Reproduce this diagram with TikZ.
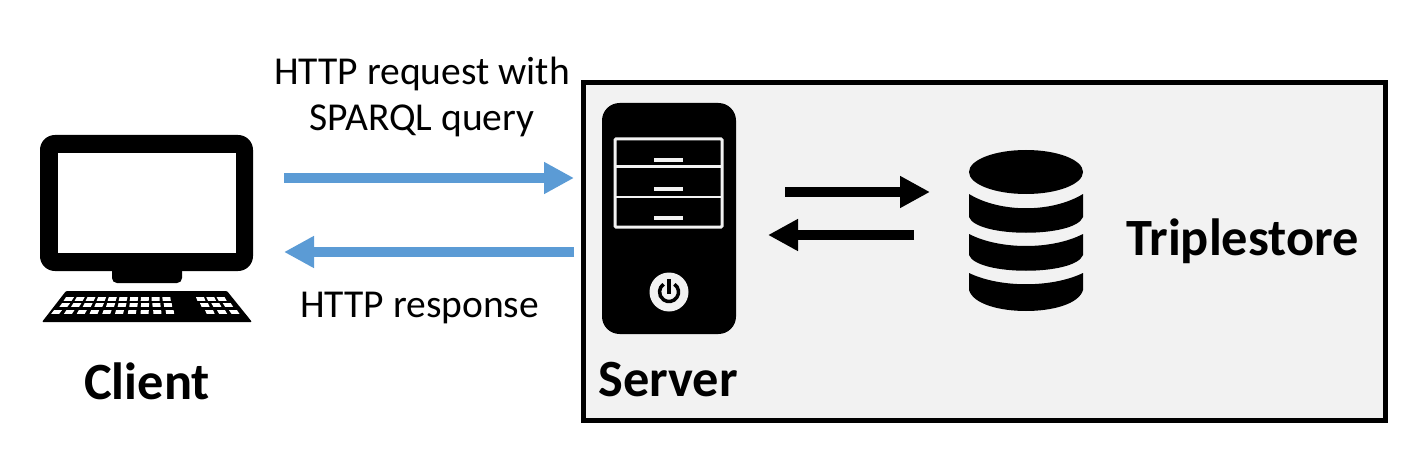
\documentclass[tikz,border=0pt]{standalone}
\usepackage{fontspec}
\setmainfont{Carlito}
\usetikzlibrary{arrows.meta}
\definecolor{panelgray}{HTML}{F2F2F2}
\definecolor{linkblue}{HTML}{5B9BD5}
\tikzset{
  linklabel/.style={font=\fontsize{22.5}{26.7}\selectfont, inner sep=0pt, align=center},
  partlabel/.style={font=\fontsize{29.8}{34}\selectfont\bfseries, inner sep=0pt},
  httparrow/.style={draw=linkblue, line width=0.2cm, -{Triangle[length=0.6cm,width=0.6cm]}},
  storearrow/.style={draw=black, line width=0.2cm, -{Triangle[length=0.6cm,width=0.6cm]}},
  trayline/.style={draw=panelgray, line width=0.06cm}
}
\begin{document}
\begin{tikzpicture}[x=0.02cm, y=-0.02cm]
    \useasboundingbox (0,0) rectangle (1408,449);

    % server panel
    \draw[fill=panelgray, line width=0.1cm] (583,83) rectangle (1385,420);

    % client
    \fill[rounded corners=2.8pt] (112,260) rectangle (182,283);
    \fill[rounded corners=8.5pt] (40,135) rectangle (253,271);
    \fill[white] (58,153) rectangle (236,253);
    \fill[rounded corners=0.6pt] (66,291) -- (227,291) -- (252,322) -- (42,322) -- cycle;
    \foreach \keyy/\keyx/\keyp/\keyn in {299/66/10.7/10, 305/62/11.3/10, 312/54/12.4/10,
                                         299/196/10.3/3, 305/200/11.4/3, 312/205/12/3} {
        \foreach \k in {1,...,\keyn} {
            \pgfmathsetmacro{\kx}{\keyx+(\k-1)*\keyp}
            \pgfmathsetmacro{\ks}{(\kx-147)*0.03}
            \fill[white] (\kx,\keyy-1.8) -- ({\kx+8},\keyy-1.8) -- ({\kx+8+\ks},\keyy+1.8) -- ({\kx+\ks},\keyy+1.8) -- cycle;
        }
    }

    % server
    \fill[rounded corners=10pt] (602,103) rectangle (736,334);
    \draw[trayline, rounded corners=0.6pt] (615,139) rectangle (722,227);
    \draw[trayline] (615,167) -- (722,167);
    \draw[trayline] (615,197) -- (722,197);
    \foreach \handley in {160,189,218} {
        \draw[trayline, line width=0.07cm] (654,\handley) -- (683,\handley);
    }
    \fill[panelgray] (669,292) circle [radius=19.5];
    \draw[line width=0.07cm] (669,292) ++(-55:9.5) arc [start angle=-55, end angle=235, radius=9.5];
    \draw[line width=0.07cm] (669,279) -- (669,294);

    % triplestore
    \fill (1026,172) circle [x radius=57, y radius=22];
    \foreach \bandt/\bandc/\bandb/\bandd in {194/213/217/238, 234/250/255/276, 273/288/290/318} {
        \fill (969,\bandt) .. controls (1000,\bandc) and (1052,\bandc) .. (1083,\bandt)
            -- (1083,\bandb) .. controls (1075,\bandd) and (977,\bandd) .. (969,\bandb) -- cycle;
    }

    % arrows
    \coordinate (reqstart) at (284,178);
    \coordinate (reqend) at (574,178);
    \coordinate (respstart) at (574,252);
    \coordinate (respend) at (284,252);
    \coordinate (querystart) at (785,192);
    \coordinate (queryend) at (930,192);
    \coordinate (resultstart) at (914,235);
    \coordinate (resultend) at (768,235);
    \draw[httparrow] (reqstart) -- (reqend);
    \draw[httparrow] (respstart) -- (respend);
    \draw[storearrow] (querystart) -- (queryend);
    \draw[storearrow] (resultstart) -- (resultend);

    % labels
    \node[linklabel] (request) at (422,97) {HTTP request with\\SPARQL query};
    \node[linklabel] (response) at (419.5,308) {HTTP response};
    \node[partlabel] (client) at (147,381) {Client};
    \node[partlabel] (server) at (668,380) {Server};
    \node[partlabel] (triplestore) at (1242.5,241) {Triplestore};
\end{tikzpicture}
\end{document}
